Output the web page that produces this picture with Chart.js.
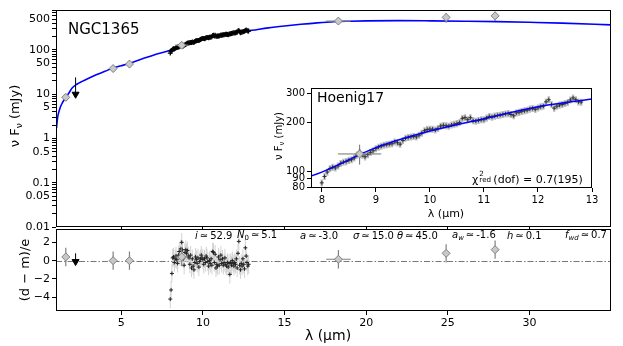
<!DOCTYPE html>
<html>
<head>
<meta charset="utf-8">
<script src="https://cdn.jsdelivr.net/npm/chart.js@4.4.1/dist/chart.umd.min.js"></script>
<style>
  body { margin: 0; background: #fff; }
  #wrap { position: relative; width: 623px; height: 346px; overflow: hidden;
          font-family: 'DejaVu Sans', sans-serif; color: #000; }
  canvas { position: absolute; }
  .lbl { position: absolute; white-space: nowrap; line-height: 1; }
  .rot { transform: translate(-50%, -50%) rotate(-90deg); }
  .ctr { transform: translate(-50%, -50%); }
  .mid { transform: translateY(-50%); }
  .sb { font-size: 70%; vertical-align: -0.3em; }
  .par { font-size: 10px; }
  .par i { font-style: italic; }
  .stk { position: relative; display: inline-block; width: 15px; height: 1em; }
  .stk span { position: absolute; left: 1px; font-size: 65%; }
</style>
</head>
<body>
<div id="wrap">
  <canvas id="chartTop" width="623" height="240" style="left:0;top:0"></canvas>
  <canvas id="chartRes" width="623" height="126" style="left:0;top:220px"></canvas>
  <canvas id="chartIns" width="340" height="145" style="left:270px;top:80px"></canvas>

  <div class="lbl mid" style="left:68px;top:29px;font-size:15px">NGC1365</div>
  <div class="lbl rot" style="left:16px;top:116px;font-size:13px">ν F<span class="sb">ν</span> (mJy)</div>
  <div class="lbl rot" style="left:24px;top:270px;font-size:13px">(d − m)/e</div>
  <div class="lbl ctr" style="left:328px;top:335px;font-size:14px">λ (µm)</div>

  <div class="lbl mid" style="left:317px;top:97px;font-size:14px">Hoenig17</div>
  <div class="lbl rot" style="left:280px;top:136px;font-size:10px">ν F<span class="sb">ν</span> (mJy)</div>
  <div class="lbl ctr" style="left:446px;top:213px;font-size:11px">λ (µm)</div>
  <div class="lbl mid" style="left:472px;top:178px;font-size:11px">χ<span class="stk"><span style="top:-0.22em">2</span><span style="top:0.55em">red</span></span>(dof) = 0.7(195)</div>

  <div class="lbl mid par" style="left:195px;top:236px"><i>i</i>&#8201;≃&#8201;52.9</div>
  <div class="lbl mid par" style="left:237px;top:236px"><i>N</i><span class="sb">0</span>&#8201;≃&#8201;5.1</div>
  <div class="lbl mid par" style="left:300px;top:236px"><i>a</i>&#8201;≃&#8201;-3.0</div>
  <div class="lbl mid par" style="left:353px;top:236px"><i>σ</i>&#8201;≃&#8201;15.0</div>
  <div class="lbl mid par" style="left:397px;top:236px"><i>θ</i>&#8201;≃&#8201;45.0</div>
  <div class="lbl mid par" style="left:452px;top:236px"><i>a</i><span class="sb"><i>w</i></span>&#8201;≃&#8201;-1.6</div>
  <div class="lbl mid par" style="left:507px;top:236px"><i>h</i>&#8201;≃&#8201;0.1</div>
  <div class="lbl mid par" style="left:565px;top:236px"><i>f</i><span class="sb"><i>wd</i></span>&#8201;≃&#8201;0.7</div>
</div>
<script>
// SED model curve (blue)
var modelLam  = [1.03, 1.1, 1.2, 1.3, 1.4, 1.6, 1.8, 2.0, 2.3, 2.6, 3.0, 3.5, 4.0, 4.5, 5.0, 5.5, 6.0, 7.0,
                 8.0, 9.0, 10.0, 11.0, 12.0, 13.0, 14.0, 15.0, 16.0, 17.0, 18.0, 19.0, 20.0, 22.0, 24.0,
                 26.0, 28.0, 30.0, 32.0, 35.0];
var modelFlux = [1.7, 3.0, 4.3, 5.5, 6.5, 8.5, 10.8, 14, 17, 19.5, 23, 28, 33, 39, 44, 50, 58, 77,
                 99, 140, 177, 211, 250, 279, 315, 348, 380, 410, 435, 447, 455, 460, 455,
                 447, 437, 422, 405, 368];

// mid-IR spectrum (Hoenig17) and its residuals
var specLam = [8.00, 8.05, 8.10, 8.15, 8.20, 8.25, 8.30, 8.35, 8.40, 8.45,
               8.50, 8.55, 8.60, 8.65, 8.70, 8.75, 8.80, 8.85, 8.90, 8.95,
               9.00, 9.05, 9.10, 9.15, 9.20, 9.25, 9.30, 9.35, 9.40, 9.45,
               9.50, 9.55, 9.60, 9.65, 9.70, 9.75, 9.80, 9.85, 9.90, 9.95,
               10.00, 10.05, 10.10, 10.15, 10.20, 10.25, 10.30, 10.35, 10.40, 10.45,
               10.50, 10.55, 10.60, 10.65, 10.70, 10.75, 10.80, 10.85, 10.90, 10.95,
               11.00, 11.05, 11.10, 11.15, 11.20, 11.25, 11.30, 11.35, 11.40, 11.45,
               11.50, 11.55, 11.60, 11.65, 11.70, 11.75, 11.80, 11.85, 11.90, 11.95,
               12.00, 12.05, 12.10, 12.15, 12.20, 12.25, 12.30, 12.35, 12.40, 12.45,
               12.50, 12.55, 12.60, 12.65, 12.70, 12.75, 12.80];
var specFlux = [85, 93, 99, 104, 106, 105, 108, 112, 114, 115,
                117, 118, 121, 126, 131, 126, 123, 127, 131, 134,
                138, 141, 143, 145, 146, 147, 148, 152, 150, 147,
                155, 160, 162, 163, 164, 163, 167, 172, 178, 181,
                182, 182, 180, 184, 190, 192, 191, 190, 193, 195,
                197, 200, 212, 214, 208, 214, 205, 204, 206, 208,
                208, 213, 218, 216, 219, 221, 222, 224, 226, 227,
                224, 220, 229, 231, 234, 236, 238, 242, 244, 241,
                246, 250, 252, 268, 276, 258, 245, 252, 256, 258,
                262, 266, 275, 283, 276, 268, 267];
var specResid = [-4.2, -3.2, -1.4, 0.3, 0.4, -0.2, 0.2, 0.5, 0.1, -0.3,
                 0.6, 1.0, 0.4, 1.3, 2.0, 1.2, 0.2, -0.5, 0.9, 1.2,
                 0.8, 1.1, 0.5, 0.3, -0.4, 0.6, -0.8, 0.2, -0.6, -1.0,
                 -0.2, 0.4, 0.1, -0.3, 0.3, -0.7, -0.1, 0.2, 0.6, 0.3,
                 0.1, -0.4, 0.2, -0.2, 0.5, 0.3, -0.1, -0.6, 0.0, -0.3,
                 0.2, -0.5, 1.0, 0.9, -0.2, 0.7, -0.8, -0.4, -0.6, 0.4,
                 -0.5, 0.1, 0.6, -0.3, 0.2, -0.5, -0.2, 0.3, -0.4, -0.6,
                 -0.2, -0.7, -0.3, -1.5, -0.2, -0.5, 0.0, -0.3, -0.6, -0.2,
                 -0.4, 0.2, -0.8, 0.8, 2.1, -0.5, -1.0, -0.3, -0.6, 0.2,
                 -0.4, -0.9, 1.4, 0.5, -0.2, -0.6, -0.4];
var specRelErr = 0.05;

// photometry (grey diamonds)
var photLam   = [1.6, 4.5, 5.5, 8.7, 18.3, 24.9, 27.9];
var photFlux  = [8.5, 38, 48, 128, 450, 545, 590];
var photErr   = [1.5, 6, 8, 18, 60, 135, 140];
var photXErr  = [0, 0, 0, 0.4, 0.75, 0, 0];
var photResid = [0.4, 0.0, 0.0, 0.4, 0.15, 0.8, 1.2];
var photResidErr = [1, 1, 1, 1, 1, 1, 1];

// upper limit (black triangle)
var limLam = [2.2];
var limFlux = [10];
var limTop = [24];
var limResid = [-0.1];
var limResidTop = [0.8];

// tick labels
var lamTicks = [5, 10, 15, 20, 25, 30];
var fluxTicks = [0.01, 0.05, 0.1, 0.5, 1, 5, 10, 50, 100, 500];
var residTicks = [-4, -2, 0, 2];
var insLamTicks = [8, 9, 10, 11, 12, 13];
var insFluxTicks = [80, 90, 100, 200, 300];

Chart.defaults.font.family = "'DejaVu Sans', sans-serif";
Chart.defaults.font.size = 11;
Chart.defaults.color = '#000';
Chart.defaults.animation = false;
Chart.defaults.plugins.legend.display = false;
Chart.defaults.plugins.tooltip.enabled = false;

function pts(xs, ys) {
  return xs.map(function (x, i) { return { x: x, y: ys[i] }; });
}
function sub(a, b) { return a.map(function (v, i) { return v - b[i]; }); }
function add(a, b) { return a.map(function (v, i) { return v + b[i]; }); }
function tickList(vals) {
  return function (s) { s.ticks = vals.map(function (v) { return { value: v }; }); };
}
function isLabel(list, v) {
  return list.some(function (t) { return Math.abs(t - v) <= Math.abs(t) * 1e-6; });
}
function minus(v) { return v < 0 ? '\u2212' + Math.abs(v) : String(v); }

// all log ticks 1..9 x decade for the main flux axis
var fluxAllTicks = [];
for (var d = -2; d <= 2; d++) {
  for (var m = 1; m <= 9; m++) {
    var t = m * Math.pow(10, d);
    if (t <= 800) fluxAllTicks.push(t);
  }
}

var tickGrid = function (len) {
  return { display: true, drawOnChartArea: false, drawTicks: true, tickLength: len, color: '#000' };
};

// error bars drawn just before each dataset
var errorBars = {
  id: 'errorBars',
  beforeDatasetDraw: function (chart, args) {
    var ds = chart.data.datasets[args.index];
    if (!ds.yLo && !ds.xLo) return;
    var ctx = chart.ctx, xs = chart.scales.x, ys = chart.scales.y, a = chart.chartArea;
    var clampY = function (v) { return Math.min(Math.max(v, ys.min), ys.max); };
    ctx.save();
    ctx.beginPath();
    ctx.rect(a.left, a.top, a.right - a.left, a.bottom - a.top);
    ctx.clip();
    ctx.strokeStyle = ds.errColor || '#888';
    ctx.lineWidth = ds.errWidth || 1;
    ctx.beginPath();
    ds.data.forEach(function (p, i) {
      var px = xs.getPixelForValue(p.x), py = ys.getPixelForValue(p.y);
      if (ds.yLo) {
        ctx.moveTo(px, ys.getPixelForValue(clampY(ds.yLo[i])));
        ctx.lineTo(px, ys.getPixelForValue(clampY(ds.yHi[i])));
      }
      if (ds.xLo && ds.xHi[i] > ds.xLo[i]) {
        ctx.moveTo(xs.getPixelForValue(ds.xLo[i]), py);
        ctx.lineTo(xs.getPixelForValue(ds.xHi[i]), py);
      }
    });
    ctx.stroke();
    ctx.restore();
  }
};

var frame = {
  id: 'frame',
  afterDraw: function (chart) {
    var a = chart.chartArea, ctx = chart.ctx;
    ctx.save();
    ctx.strokeStyle = '#000';
    ctx.lineWidth = 1;
    ctx.strokeRect(Math.round(a.left) + 0.5, Math.round(a.top) + 0.5,
                   Math.round(a.right - a.left) - 1, Math.round(a.bottom - a.top) - 1);
    ctx.restore();
  }
};

var whiteArea = {
  id: 'whiteArea',
  beforeDraw: function (chart) {
    var a = chart.chartArea, ctx = chart.ctx;
    ctx.save();
    ctx.fillStyle = '#fff';
    ctx.fillRect(a.left, a.top, a.right - a.left, a.bottom - a.top);
    ctx.restore();
  }
};

var zeroLine = {
  id: 'zeroLine',
  beforeDatasetsDraw: function (chart) {
    var a = chart.chartArea, ctx = chart.ctx;
    var y0 = Math.round(chart.scales.y.getPixelForValue(0)) + 0.5;
    ctx.save();
    ctx.strokeStyle = '#555';
    ctx.lineWidth = 0.8;
    ctx.setLineDash([6, 2, 1.5, 2]);
    ctx.beginPath();
    ctx.moveTo(a.left, y0);
    ctx.lineTo(a.right, y0);
    ctx.stroke();
    ctx.restore();
  }
};

var specLo = specFlux.map(function (v) { return v * (1 - specRelErr); });
var specHi = specFlux.map(function (v) { return v * (1 + specRelErr); });
var ones = specResid.map(function () { return 1; });

var diamond = {
  pointStyle: 'rectRot', pointRadius: 4, pointBackgroundColor: '#c8c8c8',
  pointBorderColor: '#808080', pointBorderWidth: 1
};

var topConfig = {
  type: 'scatter',
  data: {
    datasets: [
      { data: pts(modelLam, modelFlux), showLine: true, borderColor: '#0000ff', borderWidth: 1.6,
        pointRadius: 0, cubicInterpolationMode: 'monotone', order: 4 },
      { data: pts(specLam, specFlux), pointStyle: 'cross', pointRadius: 2.5, pointBorderColor: '#000',
        pointBorderWidth: 1.2, yLo: specLo, yHi: specHi, errColor: '#000', order: 3 },
      { data: pts(limLam, limFlux), pointStyle: 'triangle', pointRotation: 180, pointRadius: 4,
        pointBackgroundColor: '#000', pointBorderColor: '#000', yLo: limFlux, yHi: limTop,
        errColor: '#000', order: 2 },
      Object.assign({ data: pts(photLam, photFlux), yLo: sub(photFlux, photErr), yHi: add(photFlux, photErr),
        xLo: sub(photLam, photXErr), xHi: add(photLam, photXErr), errColor: '#808080', errWidth: 1.2, order: 1 }, diamond)
    ]
  },
  options: {
    responsive: false,
    layout: { padding: { left: 0, right: 12, top: 10, bottom: 0 } },
    scales: {
      x: { type: 'linear', min: 1, max: 35, afterBuildTicks: tickList(lamTicks),
           ticks: { display: false }, grid: tickGrid(3), border: { display: false },
           afterFit: function (s) { s.height = 13; } },
      y: { type: 'logarithmic', min: 0.01, max: 800, afterBuildTicks: tickList(fluxAllTicks),
           ticks: { autoSkip: false, padding: 2,
                    callback: function (v) { return isLabel(fluxTicks, v) ? String(v) : ''; } },
           grid: tickGrid(4), border: { display: false },
           afterFit: function (s) { s.width = 56; } }
    }
  },
  plugins: [errorBars, frame]
};

var resConfig = {
  type: 'scatter',
  data: {
    datasets: [
      { data: pts(specLam, specResid), pointStyle: 'cross', pointRadius: 2, pointBorderColor: '#222',
        pointBorderWidth: 1, yLo: sub(specResid, ones), yHi: add(specResid, ones),
        errColor: '#d2d2d2', order: 3 },
      { data: pts(limLam, limResid), pointStyle: 'triangle', pointRotation: 180, pointRadius: 4,
        pointBackgroundColor: '#000', pointBorderColor: '#000', yLo: limResid, yHi: limResidTop,
        errColor: '#000', order: 2 },
      Object.assign({ data: pts(photLam, photResid), yLo: sub(photResid, photResidErr),
        yHi: add(photResid, photResidErr), xLo: sub(photLam, photXErr), xHi: add(photLam, photXErr),
        errColor: '#808080', errWidth: 1.2, order: 1 }, diamond)
    ]
  },
  options: {
    responsive: false,
    layout: { padding: { left: 0, right: 12, top: 7, bottom: 0 } },
    scales: {
      x: { type: 'linear', min: 1, max: 35, afterBuildTicks: tickList(lamTicks),
           ticks: { autoSkip: false, padding: 2, maxRotation: 0 }, grid: tickGrid(4),
           border: { display: false }, afterFit: function (s) { s.height = 35; } },
      y: { type: 'linear', min: -5.5, max: 3.5, afterBuildTicks: tickList(residTicks),
           ticks: { autoSkip: false, padding: 2, callback: minus },
           grid: tickGrid(4), border: { display: false },
           afterFit: function (s) { s.width = 56; } }
    }
  },
  plugins: [zeroLine, errorBars, frame]
};

var insConfig = {
  type: 'scatter',
  data: {
    datasets: [
      { data: pts(modelLam, modelFlux), showLine: true, borderColor: '#0000ff', borderWidth: 1.5,
        pointRadius: 0, cubicInterpolationMode: 'monotone', order: 1 },
      { data: pts(specLam, specFlux), pointStyle: 'cross', pointRadius: 2, pointBorderColor: '#333',
        pointBorderWidth: 1, yLo: specLo, yHi: specHi, errColor: '#bdbdbd', errWidth: 2.5, order: 2 },
      Object.assign({ data: pts(photLam, photFlux), yLo: sub(photFlux, photErr), yHi: add(photFlux, photErr),
        xLo: sub(photLam, photXErr), xHi: add(photLam, photXErr), errColor: '#707070', errWidth: 1, order: 0 }, diamond)
    ]
  },
  options: {
    responsive: false,
    layout: { padding: { left: 0, right: 18, top: 6, bottom: 0 } },
    scales: {
      x: { type: 'linear', min: 7.8, max: 13, afterBuildTicks: tickList(insLamTicks),
           ticks: { autoSkip: false, padding: 2, maxRotation: 0, font: { size: 10 } }, grid: tickGrid(4),
           border: { display: false }, afterFit: function (s) { s.height = 37; } },
      y: { type: 'logarithmic', min: 79, max: 326, afterBuildTicks: tickList(insFluxTicks),
           ticks: { autoSkip: false, padding: 2, font: { size: 10 },
                    callback: function (v) { return String(v); } },
           grid: tickGrid(4), border: { display: false },
           afterFit: function (s) { s.width = 41; } }
    }
  },
  plugins: [whiteArea, errorBars, frame]
};

window.onload = function () {
  new Chart(document.getElementById('chartTop').getContext('2d'), topConfig);
  new Chart(document.getElementById('chartRes').getContext('2d'), resConfig);
  new Chart(document.getElementById('chartIns').getContext('2d'), insConfig);
};
</script>
</body>
</html>
